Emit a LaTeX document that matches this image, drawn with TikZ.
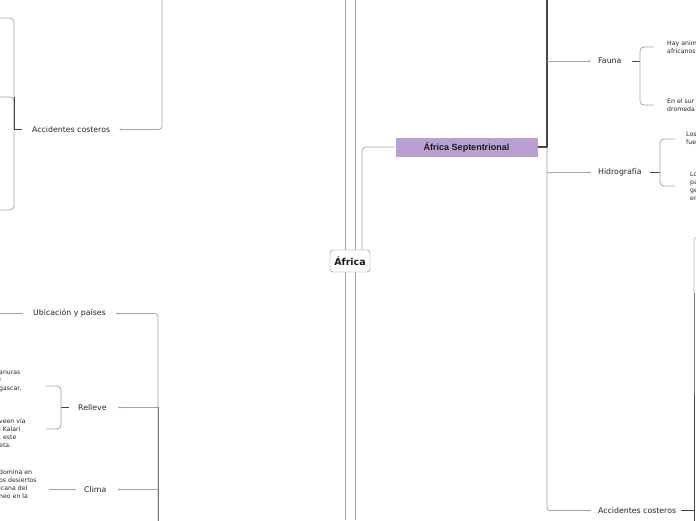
\documentclass[tikz,border=0pt]{standalone}
\usepackage{fontspec}
\setmainfont{DejaVu Sans}
\newfontfamily\arialb{Liberation Sans}
\usetikzlibrary{arrows.meta}
\definecolor{ln}{RGB}{165,165,165}
\definecolor{lnm}{RGB}{120,120,120}
\definecolor{lnd}{RGB}{70,70,70}
\definecolor{purp}{RGB}{186,160,210}
\begin{document}
\begin{tikzpicture}[x=1pt,y=-1pt,
  conn/.style={draw=ln, line width=0.8pt},
  connm/.style={draw=lnm, line width=0.8pt},
  connd/.style={draw=lnd, line width=0.9pt},
  arr/.style={conn,-{Stealth[length=2.6pt,width=2.2pt]}},
  lab/.style={font=\fontsize{7.8}{9}\selectfont, text=black!85, inner sep=0pt, anchor=west},
  small/.style={font=\fontsize{6.2}{8}\selectfont, text=black!85, inner sep=0pt, anchor=west, align=left},
  rootbox/.style={draw=lnm, rounded corners=3pt, fill=white, minimum width=40pt, minimum height=22pt, inner sep=0pt, font=\fontsize{9.5}{11}\selectfont\bfseries, text=black!90},
  septbox/.style={draw=white, fill=purp, minimum width=143pt, minimum height=20pt, inner sep=0pt, font=\arialb\fontsize{9}{10}\selectfont\bfseries, text=black!90}
]
\useasboundingbox (0,0) rectangle (696,520);

% ---------- centre ----------
\coordinate (t1) at (345,0);
\coordinate (t2) at (355,0);
\coordinate (b1) at (345,520);
\coordinate (b2) at (355,520);
\coordinate (k) at (362,0);
\node[rootbox] (af) at (350,261) {África};
\draw[conn] (af.north -| t1) -- (t1);
\draw[conn] (af.north -| t2) -- (t2);
\draw[conn] (af.south -| b1) -- (b1);
\draw[conn] (af.south -| b2) -- (b2);

\node[septbox] (sep) at (466.5,147) {África Septentrional};
\draw[conn, rounded corners=4pt] (af.north -| k) |- (sep.west);

% ---------- right side ----------
\coordinate (j) at (547,147);
\coordinate (jt) at (547,0);
\draw[connd, line width=1.1pt] (sep.east) -- (j) -- (jt);

\node[lab] (fauna) at (598,61) {Fauna};
\node[lab] (hid) at (598,172.5) {Hidrografía};
\node[lab] (accr) at (598,510.5) {Accidentes costeros};

\draw[arr] (fauna.west -| j) -- ([xshift=-7pt]fauna.west);
\draw[arr] (hid.west -| j) -- ([xshift=-7pt]hid.west);
\draw[arr, rounded corners=3pt] (j) |- ([xshift=-7pt]accr.west);

% Fauna children
\node[small] (f1) at (667,47) {Hay anim\\africanos};
\node[small] (f2) at (667,105) {En el sur\\dromeda};
\coordinate (fbx) at (640,61);
\draw[connd] ([xshift=10pt]fauna.east) -- (fbx);
\draw[conn, rounded corners=4pt] ([xshift=-13pt]f1.west) -| (fbx) |- ([xshift=-13pt]f2.west);

% Hidrografia children
\node[small] (h1) at (686,138) {Los\\fue};
\node[small] (h2) at (690,186) {Lo\\pa\\ge\\en};
\coordinate (hbx) at (660,172.5);
\coordinate (h1e) at (675,139);
\coordinate (h2e) at (675,186);
\draw[connd] ([xshift=8pt]hid.east) -- (hbx);
\draw[conn, rounded corners=4pt] (h1e) -| (hbx) |- (h2e);

% right Accidentes costeros brace
\coordinate (rtop) at (699,237);
\coordinate (r1) at (694,293);
\coordinate (r2) at (694,395);
\coordinate (rbot) at (694,522);
\draw[connd] ([xshift=5pt]accr.east) -- (accr.east -| rbot);
\draw[conn, draw=ln!70, rounded corners=3pt] (rtop) -| (r1);
\draw[connm] (r1) -- (r2);
\draw[connd] (r2) -- (rbot);

% ---------- left upper ----------
\coordinate (lt) at (162,0);
\node[lab] (accl) at (32,129.5) {Accidentes costeros};
\draw[arr, rounded corners=3pt] (lt) |- ([xshift=9pt]accl.east);
\coordinate (lbx) at (14,129.5);
\coordinate (lc1) at (-3,18);
\coordinate (lc2) at (-3,97);
\coordinate (lc3) at (-3,210);
\draw[conn, rounded corners=4pt] (lc1) -| (lbx) |- (lc3);
\draw[conn, rounded corners=4pt] (lc2) -| (lbx);
\draw[connd] (lc2 -| lbx) -- (lbx) -- ([xshift=-10pt]accl.west);

% ---------- left lower ----------
\coordinate (lb) at (158,522);
\coordinate (lm) at (158,407);
\node[lab] (ubi) at (33,313.5) {Ubicación y países};
\node[lab] (rel) at (78,407.5) {Relleve};
\node[lab] (cli) at (84,489.5) {Clima};
\draw[arr, rounded corners=3pt] (lb) |- ([xshift=10pt]ubi.east);
\draw[connm] (lm) -- (lb);
\draw[arr] (rel.east -| lb) -- ([xshift=11pt]rel.east);
\draw[arr] (cli.east -| lb) -- ([xshift=11pt]cli.east);

\coordinate (lu) at (-3,313.5);
\draw[conn] ([xshift=-10pt]ubi.west) -- (lu);

% Relleve children
\node[small] (r1t) at (-1,381) {anuras\\r\\gascar,};
\node[small] (r2t) at (-1,433) {veen vía\\l Kalari\\, este\\eta.};
\coordinate (rbx) at (61,407.5);
\coordinate (re1) at (46,386);
\coordinate (re2) at (46,429);
\draw[connd] ([xshift=-9pt]rel.west) -- (rbx);
\draw[conn, rounded corners=4pt] (re1) -| (rbx) |- (re2);

% Clima child
\node[small] (ct) at (-1,484) {domina en\\os desiertos\\icana del\\neo en la};
\draw[conn] ([xshift=-8pt]cli.west) -- ([xshift=12pt]cli.west -| ct.east);
\end{tikzpicture}
\end{document}
